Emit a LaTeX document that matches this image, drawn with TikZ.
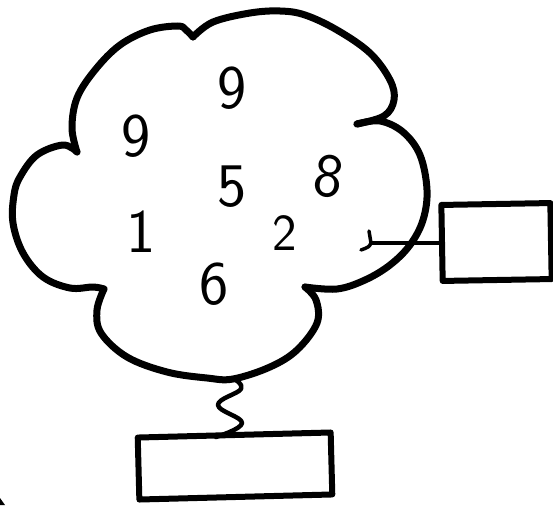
\documentclass[tikz,border=0pt]{standalone}
\begin{document}
\begin{tikzpicture}[x=1pt,y=-1pt,line cap=round,line join=round,
  cloudline/.style={line width=7pt},
  boxline/.style={draw,line width=6pt,rectangle,inner sep=0pt},
  thinline/.style={line width=3.5pt},
  springline/.style={line width=4.5pt},
  digit/.style={font=\sffamily\fontsize{62}{62}\selectfont,inner sep=0pt},
  smalldigit/.style={font=\sffamily\fontsize{52}{52}\selectfont,inner sep=0pt}]
\useasboundingbox (0,0) rectangle (553,505);
% cloud lobes
\draw[cloudline] plot[smooth,tension=0.6] coordinates {(77,152) (72,128) (77,98) (95,70) (120,45) (150,30) (178,26) (186,30) (193,37)};
\draw[cloudline] plot[smooth,tension=0.6] coordinates {(193,37) (213,22) (250,13) (280,11) (305,15) (337,30) (370,53) (390,80) (394,100) (384,116) (357,124)};
\draw[cloudline] plot[smooth,tension=0.6] coordinates {(357,124) (380,121) (403,132) (420,155) (427,190) (423,220) (410,245) (390,265) (365,280) (337,289) (305,287)};
\draw[cloudline] plot[smooth,tension=0.6] coordinates {(305,287) (316,300) (317,323) (297,350) (270,367) (233,379) (207,378) (167,372) (127,357) (101,333) (97,310) (104,289)};
\draw[cloudline] plot[smooth,tension=0.6] coordinates {(104,289) (93,287) (70,288) (43,277) (23,253) (13,223) (14,195) (20,177) (37,155) (63,145) (77,152)};
% digits
\node[digit] (n9a) at (232,88) {9};
\node[digit] (n9b) at (136,136) {9};
\node[digit] (n5) at (232,187) {5};
\node[digit,rotate=-8] (n8) at (329,176) {8};
\node[digit] (n1) at (141,232) {1};
\node[smalldigit] (n2) at (285,233) {2};
\node[digit] (n6) at (214,284) {6};
% boxes
\node[boxline,minimum width=109pt,minimum height=76pt,rotate=1] (rbox) at (496.5,242) {};
\node[boxline,minimum width=193pt,minimum height=62pt,rotate=1.5] (bbox) at (235,466) {};
% right connector
\coordinate (hook) at (rbox.west -| 371,0);
\coordinate (ticktop) at (369,231);
\coordinate (hookend) at (361,250);
\draw[thinline] (hook) -- (rbox.west);
\draw[thinline] (ticktop) -- (hook) .. controls (369,247) .. (hookend);
% spring
\coordinate (sprtop) at (234,379);
\coordinate (sprbot) at (216,437);
\draw[springline] plot[smooth,tension=0.7] coordinates {(sprtop) (241,389) (218,405) (242,423) (sprbot)};
% corner mark
\fill (0,498) -- (5,505) -- (0,505) -- cycle;
\end{tikzpicture}
\end{document}
